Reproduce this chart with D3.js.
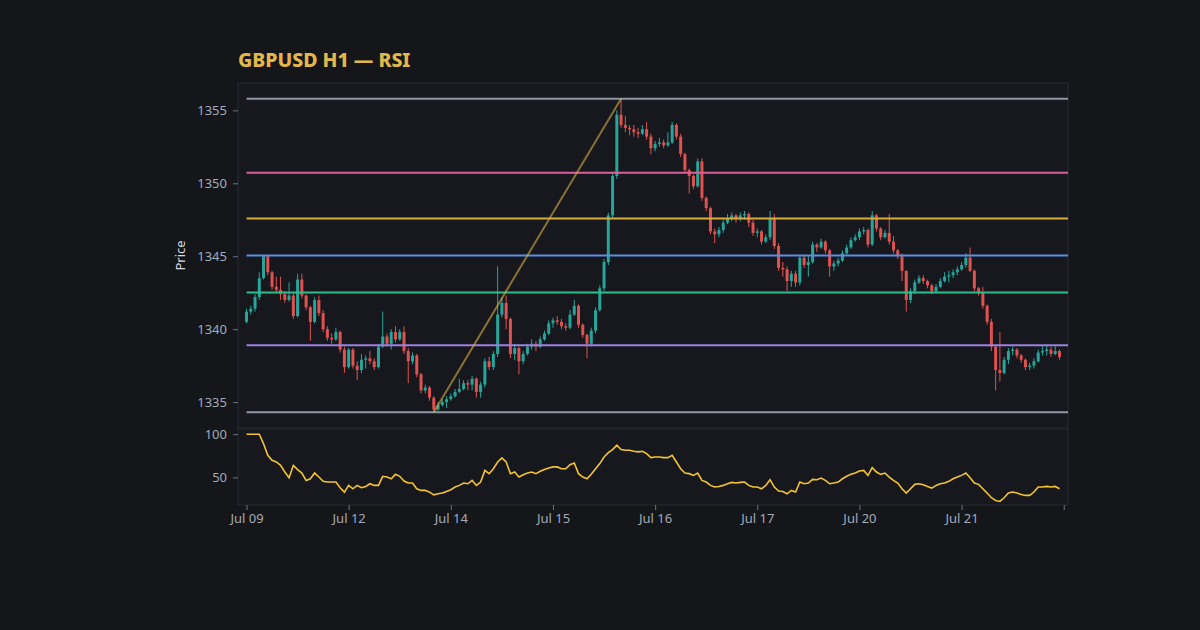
<!DOCTYPE html>
<html>
<head>
<meta charset="utf-8">
<script src="https://cdn.jsdelivr.net/npm/d3@7"></script>
<style>
body { margin: 0; background: #14161a; }
text { font-family: "Noto Sans", sans-serif; }
</style>
</head>
<body>
<script>
// bar index of the first hour of each day, and its label
var dayTicks = [0, 24, 48, 72, 96, 120, 144, 168, 192];
var dayLabels = ['Jul 09', 'Jul 12', 'Jul 14', 'Jul 15', 'Jul 16', 'Jul 17', 'Jul 20', 'Jul 21', ''];

var opens = [1340.5,1341.2,1341.4,1342.2,1343.5,1345.0,1343.9,1342.9,1342.7,1342.4,
1342.0,1342.3,1340.9,1343.4,1342.3,1341.5,1340.5,1342.0,1341.1,1340.0,
1339.4,1339.3,1339.8,1338.6,1337.4,1338.6,1337.5,1337.2,1337.9,1338.0,
1337.8,1337.4,1338.8,1339.5,1339.0,1339.8,1339.3,1339.8,1338.5,1337.8,
1338.2,1336.9,1335.8,1336.0,1335.3,1334.5,1334.8,1335.0,1335.2,1335.4,
1335.7,1335.9,1336.3,1336.2,1336.6,1335.7,1336.2,1337.8,1337.4,1338.3,
1341.0,1341.8,1340.7,1338.3,1338.7,1337.8,1338.3,1338.8,1339.0,1338.8,
1339.3,1339.7,1340.4,1340.6,1340.5,1340.2,1340.1,1341.0,1341.6,1340.3,
1339.6,1339.0,1339.9,1341.3,1342.8,1344.6,1347.8,1350.5,1354.7,1354.0,
1353.8,1353.7,1353.5,1353.4,1353.7,1353.2,1352.4,1352.7,1352.8,1352.6,
1352.8,1354.0,1353.2,1352.0,1350.9,1350.5,1349.8,1351.5,1349.0,1348.3,
1346.7,1346.5,1346.8,1347.3,1347.6,1347.8,1347.6,1347.8,1347.9,1347.3,
1346.6,1346.7,1346.0,1346.3,1347.6,1345.7,1344.2,1344.1,1343.3,1343.8,
1343.2,1344.9,1344.4,1344.6,1345.8,1345.6,1346.0,1345.4,1344.3,1344.5,
1344.7,1345.2,1345.6,1346.1,1346.3,1346.7,1346.8,1345.8,1347.8,1346.9,
1346.3,1346.6,1346.0,1345.4,1345.0,1344.0,1342.0,1342.6,1343.2,1343.5,
1343.3,1343.0,1342.6,1342.9,1343.3,1343.6,1343.7,1343.9,1344.1,1344.4,
1344.9,1344.0,1342.8,1342.5,1341.6,1340.5,1338.8,1337.2,1337.0,1337.9,
1338.5,1338.6,1338.2,1337.9,1337.4,1337.5,1337.8,1338.4,1338.5,1338.6,
1338.3,1338.5];

var highs = [1341.4,1341.6,1342.4,1343.9,1345.1,1345.0,1344.0,1343.6,1343.6,1342.6,
1343.2,1342.5,1343.8,1343.8,1342.4,1341.6,1342.2,1342.3,1341.3,1340.2,
1339.7,1340.1,1339.9,1338.8,1338.7,1338.7,1337.8,1338.3,1338.2,1338.5,
1338.0,1339.0,1341.2,1339.7,1340.0,1340.2,1340.0,1340.2,1338.7,1338.4,
1338.3,1337.0,1336.2,1336.1,1335.4,1335.0,1335.2,1335.4,1335.6,1335.9,
1336.6,1336.5,1336.5,1336.8,1336.7,1336.4,1338.0,1338.1,1338.5,1344.3,
1342.2,1342.3,1340.8,1339.0,1338.8,1338.5,1339.0,1339.3,1339.2,1339.5,
1339.9,1340.6,1340.8,1340.9,1340.7,1340.4,1341.3,1342.0,1341.7,1340.4,
1339.7,1340.1,1341.5,1343.0,1344.8,1348.0,1350.8,1355.0,1355.8,1354.6,
1354.0,1354.0,1353.8,1354.0,1354.2,1353.4,1352.9,1353.1,1353.0,1353.5,
1354.2,1354.1,1353.4,1352.1,1351.0,1350.6,1351.7,1351.7,1349.1,1348.4,
1346.9,1347.0,1347.5,1347.9,1348.0,1347.9,1348.0,1348.1,1348.0,1347.5,
1346.9,1346.8,1346.5,1348.1,1347.9,1345.9,1344.6,1344.3,1344.0,1344.0,
1345.1,1345.1,1345.0,1346.0,1345.9,1346.2,1346.1,1345.5,1344.7,1344.9,
1345.4,1345.8,1346.3,1346.5,1346.9,1347.0,1346.9,1348.1,1347.9,1347.0,
1346.8,1347.9,1346.4,1345.5,1345.2,1344.0,1342.8,1343.4,1343.7,1343.7,
1343.4,1343.1,1343.1,1343.5,1343.9,1344.0,1344.1,1344.3,1344.6,1345.2,
1345.6,1344.1,1342.9,1342.9,1341.7,1340.7,1338.9,1339.8,1338.1,1338.7,
1338.8,1338.7,1338.3,1338.0,1337.7,1338.0,1338.6,1338.9,1338.9,1338.8,
1338.9,1338.6];

var lows = [1340.4,1341.0,1341.2,1342.0,1343.4,1343.7,1342.7,1342.5,1342.0,1341.8,
1341.9,1340.7,1340.8,1342.1,1341.3,1339.2,1340.4,1340.9,1339.8,1339.2,
1339.0,1339.2,1338.4,1337.0,1337.3,1337.3,1336.5,1337.0,1337.3,1337.6,
1337.2,1337.3,1338.7,1338.8,1338.6,1339.1,1339.2,1338.3,1336.3,1337.6,
1336.7,1335.6,1335.6,1335.1,1334.3,1334.4,1334.7,1334.6,1335.1,1335.3,
1335.6,1335.8,1335.8,1335.8,1335.3,1335.3,1336.0,1337.2,1337.2,1338.1,
1340.8,1340.0,1338.0,1337.9,1336.9,1337.6,1338.2,1338.6,1338.5,1338.7,
1339.2,1339.6,1340.1,1340.3,1340.0,1339.9,1340.0,1340.9,1340.1,1339.4,
1338.0,1338.8,1339.7,1341.2,1342.6,1344.4,1347.6,1350.3,1353.8,1353.5,
1353.3,1353.2,1353.1,1353.3,1353.0,1352.0,1352.2,1352.5,1352.4,1352.5,
1352.7,1353.0,1351.8,1350.7,1349.3,1349.6,1349.7,1348.8,1348.1,1346.5,
1345.9,1346.3,1346.6,1347.2,1347.4,1347.3,1347.4,1347.5,1347.0,1346.4,
1346.3,1345.8,1345.9,1346.1,1345.5,1344.0,1343.6,1342.6,1342.9,1342.9,
1343.0,1344.2,1343.6,1344.5,1345.3,1345.5,1345.2,1343.6,1344.0,1344.3,
1344.6,1345.1,1345.5,1346.0,1346.1,1346.5,1345.6,1345.7,1346.7,1346.1,
1346.2,1345.8,1345.2,1344.8,1343.3,1341.2,1341.8,1342.4,1343.1,1343.1,
1342.8,1342.4,1342.5,1342.8,1343.2,1343.2,1343.5,1343.7,1344.0,1344.2,
1343.9,1342.6,1342.3,1341.4,1340.3,1338.5,1335.8,1336.4,1336.9,1337.6,
1338.2,1338.0,1337.7,1337.2,1337.2,1337.3,1337.7,1338.2,1338.2,1338.1,
1338.2,1337.9];

var closes = [1341.2,1341.4,1342.2,1343.5,1345.0,1343.9,1342.9,1342.7,1342.4,1342.0,
1342.3,1340.9,1343.4,1342.3,1341.5,1340.5,1342.0,1341.1,1340.0,1339.4,
1339.3,1339.8,1338.6,1337.4,1338.6,1337.5,1337.2,1337.9,1338.0,1337.8,
1337.4,1338.8,1339.5,1339.0,1339.8,1339.3,1339.8,1338.5,1337.8,1338.2,
1336.9,1335.8,1336.0,1335.3,1334.5,1334.8,1335.0,1335.2,1335.4,1335.7,
1335.9,1336.3,1336.2,1336.6,1335.7,1336.2,1337.8,1337.4,1338.3,1341.0,
1341.8,1340.7,1338.3,1338.7,1337.8,1338.3,1338.8,1339.0,1338.8,1339.3,
1339.7,1340.4,1340.6,1340.5,1340.2,1340.1,1341.0,1341.6,1340.3,1339.6,
1339.0,1339.9,1341.3,1342.8,1344.6,1347.8,1350.5,1354.7,1354.0,1353.8,
1353.7,1353.5,1353.4,1353.7,1353.2,1352.4,1352.7,1352.8,1352.6,1352.8,
1354.0,1353.2,1352.0,1350.9,1350.5,1349.8,1351.5,1349.0,1348.3,1346.7,
1346.5,1346.8,1347.3,1347.6,1347.8,1347.6,1347.8,1347.9,1347.3,1346.6,
1346.7,1346.0,1346.3,1347.6,1345.7,1344.2,1344.1,1343.3,1343.8,1343.2,
1344.9,1344.4,1344.6,1345.8,1345.6,1346.0,1345.4,1344.3,1344.5,1344.7,
1345.2,1345.6,1346.1,1346.3,1346.7,1346.8,1345.8,1347.8,1346.9,1346.3,
1346.6,1346.0,1345.4,1345.0,1344.0,1342.0,1342.6,1343.2,1343.5,1343.3,
1343.0,1342.6,1342.9,1343.3,1343.6,1343.7,1343.9,1344.1,1344.4,1344.9,
1344.0,1342.8,1342.5,1341.6,1340.5,1338.8,1337.2,1337.0,1337.9,1338.5,
1338.6,1338.2,1337.9,1337.4,1337.5,1337.8,1338.4,1338.5,1338.6,1338.3,
1338.5,1338.1];

var rsi = [100,100,100,100,89,75.6,69.8,67.8,63.9,56.2,
49.6,63.9,59,55,46.5,48.4,55,50.4,45.4,44.6,
44.6,44.6,37.9,32.9,40.7,36.8,40.7,38,39.5,42.6,
40.7,40.7,51.2,50.4,48.4,53.5,51.2,45.8,43.4,43.4,
36.8,34.9,34.9,32.9,29.8,31,31.8,33.7,35.7,38.8,
40.7,43.4,42.6,46.5,40.7,44.6,58.1,54.3,60,67.8,
72.5,67.8,54.3,56.2,50.4,53.1,55,56.2,54.3,57,
59,60.9,62.1,62.1,60,60,64.7,66.6,54.3,50.4,
48.4,53.5,60,65.9,73.6,78.6,82.2,87.2,82.2,81.4,
81.4,80.2,79.5,80.2,77.5,72.9,73.6,73.6,72.9,72.9,
75.6,67.8,60,55,54.3,52.3,55,46.5,44.6,40.7,
38.8,39.5,40.7,42.6,44.2,43.4,44.2,44.6,40.7,38.8,
38.8,36.8,40.7,47.3,38.8,34.1,33.7,31,34.9,33,
44.6,42.6,43.4,47.7,47.3,49.2,46.5,42.6,43.4,44.6,
48.4,51.2,53.5,55,57.4,58.1,52.3,61.2,56.2,53.5,
55,50.4,46.5,43.4,36.8,31.8,36.8,41.9,42.6,41.5,
39.5,37.6,40.7,42.6,43.4,45.4,48.4,50.4,52.3,55,
49.6,43.4,41.9,36.8,31.8,26.4,23.3,22.1,26.4,31.8,
33,31.8,30.2,29.1,29.1,33,38.8,38.8,39.5,38.8,
39.5,36.8];

var fibLevels = [0, 0.236, 0.382, 0.5, 0.618, 0.786, 1];
var fibColors = ['#9097a4', '#d9609b', '#d8ad3a', '#5b8ee6', '#2fbd8c', '#9c80e2', '#9097a4'];
var priceTicks = [1335, 1340, 1345, 1350, 1355];
var rsiTicks = [50, 100];

var bars = d3.range(closes.length);

var left = 238, right = 1068;
var priceTop = 83, priceBottom = 428;
var rsiTop = 429, rsiBottom = 505;

var hi = d3.max(highs), lo = d3.min(lows);
var hiIdx = highs.indexOf(hi), loIdx = lows.indexOf(lo);
var pad = (hi - lo) * 0.05;

var x = d3.scaleLinear().domain([-2, 193]).range([left, right]);
var y = d3.scaleLinear().domain([lo - pad, hi + pad]).range([priceBottom, priceTop]);
var yR = d3.scaleLinear().domain([18, 106]).range([rsiBottom, rsiTop]);

var svg = d3.select('body').append('svg')
    .attr('width', 1200)
    .attr('height', 630);

svg.append('rect')
    .attr('width', 1200)
    .attr('height', 630)
    .attr('fill', '#14161a');

// panels
svg.append('rect')
    .attr('x', left)
    .attr('y', priceTop)
    .attr('width', right - left)
    .attr('height', priceBottom - priceTop)
    .attr('fill', '#16181d')
    .attr('stroke', '#262a33');

svg.append('rect')
    .attr('x', left)
    .attr('y', rsiTop)
    .attr('width', right - left)
    .attr('height', rsiBottom - rsiTop)
    .attr('fill', '#16181d')
    .attr('stroke', '#262a33');

svg.append('text')
    .attr('x', left)
    .attr('y', 67)
    .attr('fill', '#e2b84b')
    .attr('font-size', 19.5)
    .attr('font-weight', 800)
    .text('GBPUSD H1 \u2014 RSI');

svg.append('text')
    .attr('transform', 'translate(185,' + (priceTop + priceBottom) / 2 + ') rotate(-90)')
    .attr('text-anchor', 'middle')
    .attr('fill', '#d6d9e0')
    .attr('font-size', 13)
    .text('Price');

// candles
var candles = svg.append('g');
var bw = (x(1) - x(0)) * 0.7;

candles.selectAll('line')
    .data(bars)
    .enter().append('line')
    .attr('x1', function(i) { return x(i); })
    .attr('x2', function(i) { return x(i); })
    .attr('y1', function(i) { return y(highs[i]); })
    .attr('y2', function(i) { return y(lows[i]); })
    .attr('stroke', function(i) { return closes[i] >= opens[i] ? '#26a69a' : '#e0524f'; })
    .attr('stroke-width', 1);

candles.selectAll('rect')
    .data(bars)
    .enter().append('rect')
    .attr('x', function(i) { return x(i) - bw / 2; })
    .attr('y', function(i) { return y(Math.max(opens[i], closes[i])); })
    .attr('width', bw)
    .attr('height', function(i) { return Math.max(1, Math.abs(y(opens[i]) - y(closes[i]))); })
    .attr('fill', function(i) { return closes[i] >= opens[i] ? '#26a69a' : '#e0524f'; });

// fibonacci levels, measured down from the high
svg.selectAll('.fib')
    .data(fibLevels)
    .enter().append('line')
    .attr('class', 'fib')
    .attr('x1', x(0))
    .attr('x2', right)
    .attr('y1', function(d) { return y(hi - d * (hi - lo)); })
    .attr('y2', function(d) { return y(hi - d * (hi - lo)); })
    .attr('stroke', function(d, i) { return fibColors[i]; })
    .attr('stroke-width', 2);

// swing line low -> high
svg.append('line')
    .attr('x1', x(loIdx))
    .attr('y1', y(lo))
    .attr('x2', x(hiIdx))
    .attr('y2', y(hi))
    .attr('stroke', '#d6ad45')
    .attr('stroke-opacity', 0.6)
    .attr('stroke-width', 2);

// rsi
svg.append('path')
    .datum(bars)
    .attr('fill', 'none')
    .attr('stroke', '#f4c430')
    .attr('stroke-width', 1.6)
    .attr('d', d3.line()
        .x(function(i) { return x(i); })
        .y(function(i) { return yR(rsi[i]); }));

// axes
function styleAxis(g) {
    g.select('.domain').remove();
    g.selectAll('line').attr('stroke', '#6c7280');
    g.selectAll('text')
        .attr('fill', '#a4aab6')
        .attr('font-size', 13)
        .attr('font-family', '"Noto Sans", sans-serif');
}

svg.append('g')
    .attr('transform', 'translate(' + left + ',0)')
    .call(d3.axisLeft(y).tickValues(priceTicks).tickSize(5).tickPadding(6)
        .tickFormat(d3.format('d')))
    .call(styleAxis);

svg.append('g')
    .attr('transform', 'translate(' + left + ',0)')
    .call(d3.axisLeft(yR).tickValues(rsiTicks).tickSize(5).tickPadding(6)
        .tickFormat(d3.format('d')))
    .call(styleAxis);

svg.append('g')
    .attr('transform', 'translate(0,' + rsiBottom + ')')
    .call(d3.axisBottom(x).tickValues(dayTicks).tickSize(5).tickPadding(4)
        .tickFormat(function(d, i) { return dayLabels[i]; }))
    .call(styleAxis);
</script>
</body>
</html>
